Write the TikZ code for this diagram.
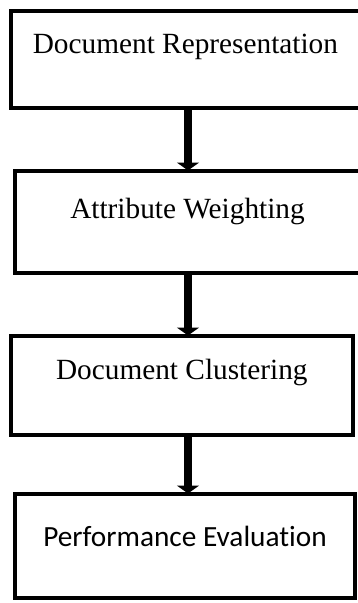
\documentclass[tikz,border=0pt]{standalone}
\usepackage{fontspec}
\setmainfont{Liberation Serif}
\newfontfamily\calibri[Ligatures=NoCommon]{Carlito}
\usetikzlibrary{arrows.meta}

\begin{document}
\begin{tikzpicture}[x=1pt,y=-1pt,
                    box/.style={draw=black,line width=4pt,anchor=north west,
                      inner sep=0pt,outer sep=0pt,font=\fontsize{29.3}{34}\selectfont},
                    flow/.style={-{Triangle[width=22pt,length=8pt]},line width=8pt}]
  \useasboundingbox (0,0) rectangle (357,603);

  \node[box,minimum width=349.2pt,text height=42.8pt,text depth=55pt]   (rep)  at (10.8,10.5)  {Document Representation};
  \node[box,minimum width=345pt,text height=47.8pt,text depth=54.2pt]   (wgt)  at (15,170.5)   {Attribute Weighting};
  \node[box,minimum width=342pt,text height=43.8pt,text depth=55.2pt]   (clu)  at (10.8,335.5) {Document Clustering};
  \node[box,minimum width=340pt,text height=53.2pt,text depth=51pt,
        font=\calibri\fontsize{29.3}{34}\selectfont]                     (eval) at (15,493.5)   {Performance Evaluation};

  \coordinate (axis) at (188,0);

  \draw[flow] (rep.south -| axis) -- (wgt.north -| axis);
  \draw[flow] (wgt.south -| axis) -- (clu.north -| axis);
  \draw[flow] (clu.south -| axis) -- (eval.north -| axis);
\end{tikzpicture}
\end{document}
